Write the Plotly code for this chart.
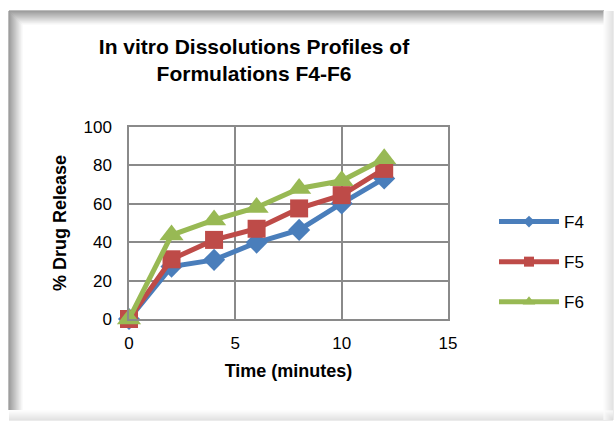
import plotly.graph_objects as go

time_min = [0, 2, 4, 6, 8, 10, 12]
f4 = [0, 27.3, 30.8, 39.8, 46.4, 60.2, 73.2]
f5 = [0, 31.1, 41.2, 47.0, 57.6, 64.5, 78.2]
f6 = [0, 43.7, 51.6, 58.1, 68.0, 72.0, 83.5]
series_names = ["F4", "F5", "F6"]
x_ticks = [0, 5, 10, 15]
y_ticks = [0, 20, 40, 60, 80, 100]

W, H = 614, 421
L, R, T, B = 129, 166, 127, 102
PW, PH = W - L - R, H - T - B

def px(x):
    return (x - L) / PW

def py(y):
    return 1 - (y - T) / PH

FONT = "Liberation Sans"
fig = go.Figure()
specs = [
    (f4, "#4A7EBB", "diamond", 17, 9),
    (f5, "#BE4B48", "square", 18, 10),
    (f6, "#98B954", "triangle-up", 21, 11),
]
for i, (vals, col, sym, sz, lsz) in enumerate(specs):
    fig.add_trace(go.Scatter(
        x=time_min, y=vals, name=series_names[i], mode="lines+markers",
        line=dict(color=col, width=5), marker=dict(symbol=sym, size=sz, color=col),
        legendgroup=series_names[i], cliponaxis=False, showlegend=False,
    ))
    # legend entry with smaller marker, like the reference key
    fig.add_trace(go.Scatter(
        x=[None], y=[None], name=series_names[i], mode="lines+markers",
        line=dict(color=col, width=5), marker=dict(symbol=sym, size=lsz, color=col),
        legendgroup=series_names[i], showlegend=True,
    ))

shapes = []
for k in range(14):
    g = int(120 + k * 135 / 14)
    c = f"rgb({g},{g},{g})"
    shapes.append(dict(type="line", xref="paper", yref="paper",
                       x0=px(9 + k), x1=px(9 + k), y0=py(11 + k), y1=py(410), line=dict(color=c, width=1)))
    shapes.append(dict(type="line", xref="paper", yref="paper",
                       x0=px(9 + k), x1=px(604), y0=py(11 + k), y1=py(11 + k), line=dict(color=c, width=1)))
for k in range(10):
    g = int(215 + k * 4)
    c = f"rgb({g},{g},{g})"
    shapes.append(dict(type="line", xref="paper", yref="paper",
                       x0=px(613 - k), x1=px(613 - k), y0=py(11), y1=py(420), line=dict(color=c, width=1)))
    shapes.append(dict(type="line", xref="paper", yref="paper",
                       x0=px(9), x1=px(613), y0=py(420 - k), y1=py(420 - k), line=dict(color=c, width=1)))
fig.update_layout(shapes=shapes)

fig.update_layout(
    width=W, height=H, margin=dict(l=L, r=R, t=T, b=B),
    paper_bgcolor="white", plot_bgcolor="white",
    font=dict(family=FONT, color="black"),
    title=dict(text="<b>In vitro Dissolutions Profiles of<br>Formulations F4-F6</b>",
               x=px(254), xanchor="center", xref="paper", y=1 - 54 / H, yanchor="middle",
               font=dict(size=21, family=FONT)),
    xaxis=dict(range=[0, 15], tickvals=x_ticks, showgrid=True, gridcolor="#8a8a8a", gridwidth=1.5,
               showline=True, linecolor="#8a8a8a", linewidth=1.5, mirror=True, zeroline=False,
               ticks="outside", ticklen=8, tickcolor="rgba(0,0,0,0)", tickfont=dict(size=17),
               title=dict(text="<b>Time (minutes)</b>", font=dict(size=18), standoff=12)),
    yaxis=dict(range=[0, 100], tickvals=y_ticks, showgrid=True, gridcolor="#8a8a8a", gridwidth=1.5,
               showline=True, linecolor="#8a8a8a", linewidth=1.5, mirror=True, zeroline=False,
               ticks="outside", ticklen=12, tickcolor="rgba(0,0,0,0)", tickfont=dict(size=17),
               title=dict(text="<b>% Drug Release</b>", font=dict(size=18), standoff=12)),
    legend=dict(x=px(494), y=py(204), xanchor="left", yanchor="top", font=dict(size=17),
                tracegroupgap=15, itemwidth=60, itemsizing="trace", bgcolor="rgba(0,0,0,0)"),
)
fig.write_html("out.html")
